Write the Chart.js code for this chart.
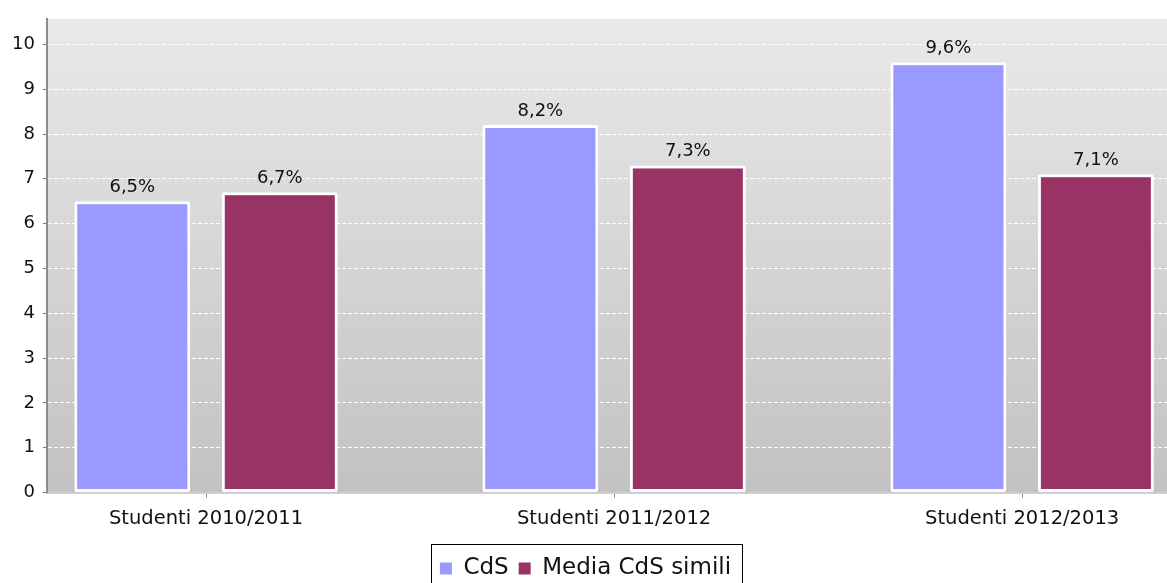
<!DOCTYPE html>
<html>
<head>
<meta charset="utf-8">
<script src="https://cdn.jsdelivr.net/npm/chart.js@4.4.1/dist/chart.umd.min.js"></script>
<style>
  html, body { margin: 0; padding: 0; background: #fff; overflow: hidden; }
  #wrap { width: 1167px; height: 583px; position: relative; }
</style>
</head>
<body>
<div id="wrap"><canvas id="chart"></canvas></div>
<script>
const categories = ['Studenti 2010/2011', 'Studenti 2011/2012', 'Studenti 2012/2013'];
const seriesNames = ['CdS', 'Media CdS simili'];
const cdsValues = [6.5, 8.2, 9.6];
const mediaValues = [6.7, 7.3, 7.1];
const yTicks = [0, 1, 2, 3, 4, 5, 6, 7, 8, 9, 10];
const seriesColors = ['#9999ff', '#993366'];

const FONT = '"DejaVu Sans", sans-serif';

// plot background: light grey gradient
const plotBg = {
  id: 'plotBg',
  beforeDraw(chart) {
    const { ctx, chartArea: a } = chart;
    const g = ctx.createLinearGradient(0, a.top, 0, a.bottom);
    g.addColorStop(0, '#e9e9e9');
    g.addColorStop(1, '#c2c2c2');
    ctx.save();
    ctx.fillStyle = g;
    ctx.fillRect(a.left, a.top, a.right - a.left, a.bottom - a.top);
    ctx.restore();
  }
};

// value labels above the bars, "6,5%"
const valueLabels = {
  id: 'valueLabels',
  afterDatasetsDraw(chart) {
    const ctx = chart.ctx;
    ctx.save();
    ctx.font = '18px ' + FONT;
    ctx.fillStyle = '#111';
    ctx.textAlign = 'center';
    ctx.textBaseline = 'bottom';
    chart.data.datasets.forEach((ds, i) => {
      chart.getDatasetMeta(i).data.forEach((bar, j) => {
        const v = ds.data[j].y;
        ctx.fillText(v.toFixed(1).replace('.', ',') + '%', bar.x, bar.y - 5);
      });
    });
    ctx.restore();
  }
};

// black frame round the legend
const legendFrame = {
  id: 'legendFrame',
  afterDraw(chart) {
    const boxes = chart.legend && chart.legend.legendHitBoxes;
    if (!boxes || !boxes.length) return;
    const x1 = Math.min(...boxes.map(b => b.left)) - 9;
    const x2 = Math.max(...boxes.map(b => b.left + b.width)) + 11;
    const y1 = Math.min(...boxes.map(b => b.top)) - 13;
    const ctx = chart.ctx;
    ctx.save();
    ctx.strokeStyle = '#000';
    ctx.lineWidth = 1;
    ctx.strokeRect(Math.round(x1) + 0.5, Math.round(y1) + 0.5, Math.round(x2 - x1), 60);
    ctx.restore();
  }
};

const toPoints = vals => vals.map((v, i) => ({ x: i, y: v }));

new Chart(document.getElementById('chart'), {
  type: 'bar',
  data: {
    datasets: [
      { label: seriesNames[0], data: toPoints(cdsValues), backgroundColor: seriesColors[0],
        borderColor: '#ffffff', borderWidth: 3, borderRadius: 2, borderSkipped: false },
      { label: seriesNames[1], data: toPoints(mediaValues), backgroundColor: seriesColors[1],
        borderColor: '#ffffff', borderWidth: 3, borderRadius: 2, borderSkipped: false }
    ]
  },
  options: {
    responsive: true,
    maintainAspectRatio: false,
    animation: false,
    devicePixelRatio: 1,
    categoryPercentage: 0.723,
    barPercentage: 0.786,
    layout: { padding: { top: 17, left: 4, right: 0, bottom: -7 } },
    plugins: {
      tooltip: { enabled: false },
      legend: {
        position: 'bottom',
        labels: {
          font: { family: FONT, size: 23 },
          color: '#111',
          boxWidth: 12,
          boxHeight: 12,
          padding: 10,
          generateLabels: chart => Chart.defaults.plugins.legend.labels.generateLabels(chart)
            .map(l => Object.assign(l, { lineWidth: 0, strokeStyle: 'transparent' }))
        }
      }
    },
    scales: {
      x: {
        type: 'linear',
        offset: false,
        min: -0.39,
        max: 2.355,
        afterBuildTicks: axis => { axis.ticks = categories.map((c, i) => ({ value: i })); },
        afterFit: axis => { axis.height += 6; },
        ticks: {
          callback: v => categories[v],
          font: { family: FONT, size: 19.5 },
          color: '#111',
          padding: 10,
          maxRotation: 0,
          autoSkip: false
        },
        grid: { offset: false, drawOnChartArea: false, drawTicks: true, tickLength: 5, tickColor: '#888' },
        border: { color: '#cfcfcf', width: 2 }
      },
      y: {
        min: 0,
        max: 10.57,
        afterBuildTicks: axis => { axis.ticks = yTicks.map(v => ({ value: v })); },
        ticks: {
          font: { family: FONT, size: 18 },
          color: '#111',
          padding: 8
        },
        grid: {
          color: c => (c.tick && c.tick.value === 0) ? '#8a8a8a' : '#ffffff',
          lineWidth: 1,
          tickLength: 4,
          tickColor: '#777'
        },
        border: { color: '#8c8c8c', width: 2, dash: [4, 2] }
      }
    }
  },
  plugins: [plotBg, valueLabels, legendFrame]
});
</script>
</body>
</html>
